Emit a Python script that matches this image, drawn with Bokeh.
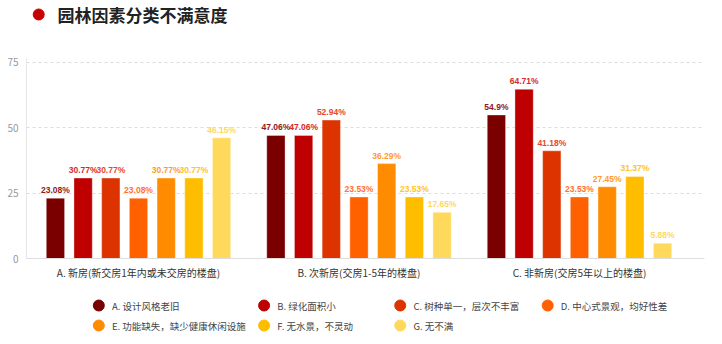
import numpy as np
from bokeh.plotting import figure
from bokeh.layouts import column
from bokeh.models import Range1d, ColumnDataSource, FixedTicker
from bokeh.core.properties import value
from bokeh.embed import file_html
from bokeh.resources import INLINE

# ---- data ----
title_text = "园林因素分类不满意度"
categories = ["A. 新房(新交房1年内或未交房的楼盘)", "B. 次新房(交房1-5年的楼盘)", "C. 非新房(交房5年以上的楼盘)"]
series_names = ["A. 设计风格老旧", "B. 绿化面积小", "C. 树种单一，层次不丰富", "D. 中心式景观，均好性差",
                "E. 功能缺失，缺少健康休闲设施", "F. 无水景，不灵动", "G. 无不满"]
s_A = [23.08, 47.06, 54.9]
s_B = [30.77, 47.06, 64.71]
s_C = [30.77, 52.94, 41.18]
s_D = [23.08, 23.53, 23.53]
s_E = [30.77, 36.29, 27.45]
s_F = [30.77, 23.53, 31.37]
s_G = [46.15, 17.65, 5.88]
series_values = [s_A, s_B, s_C, s_D, s_E, s_F, s_G]
label_texts = [["23.08%", "47.06%", "54.9%"], ["30.77%", "47.06%", "64.71%"], ["30.77%", "52.94%", "41.18%"],
               ["23.08%", "23.53%", "23.53%"], ["30.77%", "36.29%", "27.45%"], ["30.77%", "23.53%", "31.37%"],
               ["46.15%", "17.65%", "5.88%"]]
y_ticks = [0, 25, 50, 75]

# ---- styles ----
colors = ["#7A0000", "#BE0000", "#DD3300", "#FF6000", "#FF8C00", "#FFBD00", "#FFD95C"]
label_colors = ["#8E1A1A", "#D32A2A", "#E5482A", "#FF7130", "#FF9A2E", "#FFC425", "#FFD95C"]
CJK = "Noto Sans CJK SC"
W = 722

# ---- header ----
head = figure(width=W, height=50, x_range=Range1d(0, W), y_range=Range1d(50, 0),
              output_backend="svg", toolbar_location=None, min_border=0,
              outline_line_color=None, x_axis_type=None, y_axis_type=None)
head.grid.visible = False
head.scatter(x=[13], y=[14], size=11, color="#C80000")
head.text(x=[33], y=[14], text=[title_text], text_font=value(CJK), text_font_size="17px",
          text_font_style="bold", text_color="#222222", text_baseline="middle", text_align="left")

# ---- main chart ----
p = figure(width=W, height=232, x_range=Range1d(-0.508, 2.567), y_range=Range1d(0, 76.5),
           output_backend="svg", toolbar_location=None,
           min_border_left=26, min_border_right=18, min_border_top=8, min_border_bottom=23,
           outline_line_color=None)

n = len(series_values)
step = 0.1256
bw = 0.083
gx = np.arange(len(categories))
for i, (vals, c, lc, lt) in enumerate(zip(series_values, colors, label_colors, label_texts)):
    xs = gx + (i - (n - 1) / 2) * step
    src = ColumnDataSource(dict(x=xs, top=vals, lab=lt))
    p.vbar(x="x", top="top", width=bw, bottom=0, source=src, fill_color=c,
           line_color="white", line_alpha=0.35, line_width=1)
    p.text(x="x", y="top", text="lab", source=src, text_align="center", text_baseline="bottom",
           y_offset=-3, text_font=value("Liberation Sans"), text_font_size="8.5px",
           text_font_style="bold", text_color=lc)

p.xaxis.ticker = FixedTicker(ticks=list(gx))
p.xaxis.major_label_overrides = {int(k): v for k, v in zip(gx, categories)}
p.xaxis.major_label_text_font = CJK
p.xaxis.major_label_text_font_size = "10px"
p.xaxis.major_label_text_color = "#333333"
p.xaxis.major_label_standoff = 6
p.xaxis.axis_line_color = "#DDDDDD"
p.xaxis.major_tick_line_color = None
p.xaxis.minor_tick_line_color = None
p.xaxis.major_tick_out = 0
p.xaxis.major_tick_in = 0
p.xaxis.minor_tick_out = 0

p.yaxis.ticker = FixedTicker(ticks=y_ticks)
p.yaxis.major_label_text_font = CJK
p.yaxis.major_label_text_font_size = "10px"
p.yaxis.major_label_text_color = "#999999"
p.yaxis.major_label_standoff = 8
p.yaxis.axis_line_color = "#E6E6E6"
p.yaxis.major_tick_line_color = None
p.yaxis.minor_tick_line_color = None
p.yaxis.major_tick_out = 0
p.yaxis.major_tick_in = 0
p.yaxis.minor_tick_out = 0

p.xgrid.visible = False
p.ygrid.ticker = FixedTicker(ticks=y_ticks[1:])
p.ygrid.grid_line_color = "#DDDDDD"
p.ygrid.grid_line_dash = "3 3"

# ---- legend ----
leg = figure(width=W, height=62, x_range=Range1d(0, W), y_range=Range1d(62, 0),
             output_backend="svg", toolbar_location=None, min_border=0,
             outline_line_color=None, x_axis_type=None, y_axis_type=None)
leg.grid.visible = False
col_x = [77, 253, 398, 555]
row_y = [23, 43]
lx = [col_x[i % 4] for i in range(n)]
ly = [row_y[i // 4] for i in range(n)]
lsrc = ColumnDataSource(dict(x=lx, y=ly, c=colors, t=series_names, tx=[v + 14 for v in lx]))
leg.scatter(x="x", y="y", size=11, color="c", source=lsrc)
leg.text(x="tx", y="y", text="t", source=lsrc, text_font=value(CJK), text_font_size="9.5px",
         text_color="#444444", text_baseline="middle", text_align="left")

layout = column(head, p, leg, spacing=0)
open("out.html", "w").write(file_html(layout, INLINE))
